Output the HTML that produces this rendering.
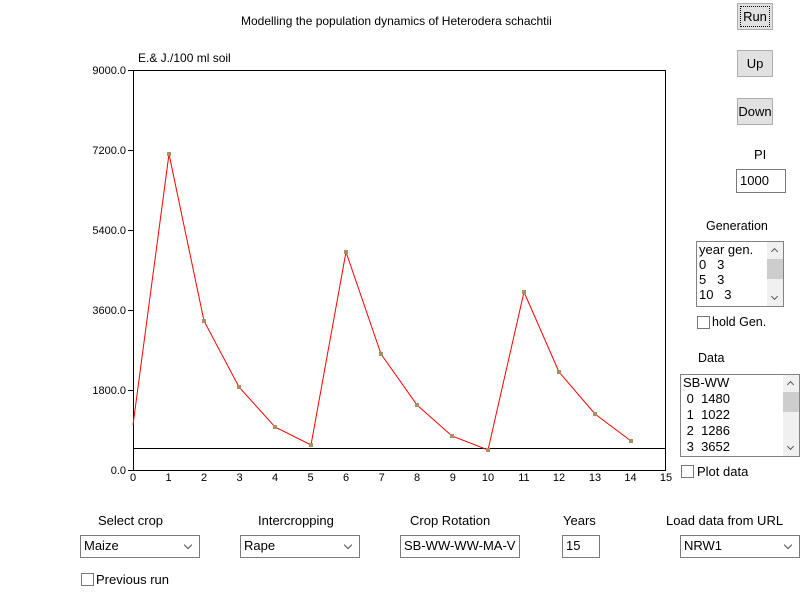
<!DOCTYPE html><html><head><style>
body{margin:0;width:800px;height:601px;background:#fff;font-family:"Liberation Sans",sans-serif;font-size:13px;position:relative;overflow:hidden}
.a{position:absolute;white-space:nowrap}
.btn{position:absolute;width:36px;height:27px;background:#e1e1e1;border:1px solid #adadad;box-sizing:border-box;text-align:center;line-height:25px;font-size:13px}
.box{position:absolute;border:1px solid #7a7a7a;box-sizing:border-box;background:#fff;font-size:13px;line-height:20px;padding-left:3px}
.sel::after{content:"";position:absolute;right:8px;top:6px;width:5px;height:5px;border-right:1px solid #555;border-bottom:1px solid #555;transform:rotate(45deg)}
.cb{position:absolute;width:11px;height:11px;border:1px solid #777;background:#fff}
.lb{position:absolute;border:1px solid #828282;background:#fff;box-sizing:border-box;line-height:15px;font-size:13px;padding-left:2px}
.sb{position:absolute;right:0;top:0;bottom:0;width:16px;background:#f0f0f0}
.sb i{position:absolute;left:0;top:17px;width:16px;height:20px;background:#cdcdcd}
.sb b,.sb u{position:absolute;left:5px;width:4px;height:4px;border-left:1px solid #555;border-top:1px solid #555}
.sb b{top:7px;transform:rotate(45deg)}
.sb u{bottom:7px;transform:rotate(225deg)}
</style></head><body>
<div class="a" style="left:241px;top:14px;font-size:12px">Modelling the population dynamics of Heterodera schachtii</div>
<div class="a" style="left:138px;top:51px;font-size:12px">E.&amp; J./100 ml soil</div>
<svg class="a" style="left:0;top:0" width="800" height="601">
<g font-family="Liberation Sans" font-size="11" fill="#000">
<rect x="133.5" y="70.5" width="532" height="400" fill="none" stroke="#000"/>
<g stroke="#000">
<line x1="128" y1="70.5" x2="133" y2="70.5"/><line x1="128" y1="150.5" x2="133" y2="150.5"/><line x1="128" y1="230.5" x2="133" y2="230.5"/><line x1="128" y1="310.5" x2="133" y2="310.5"/><line x1="128" y1="390.5" x2="133" y2="390.5"/><line x1="128" y1="470.5" x2="133" y2="470.5"/>
<line x1="133" y1="448.5" x2="666" y2="448.5"/>
</g>
<g text-anchor="end"><text x="126" y="74">9000.0</text><text x="126" y="154">7200.0</text><text x="126" y="234">5400.0</text><text x="126" y="314">3600.0</text><text x="126" y="394">1800.0</text><text x="126" y="474">0.0</text></g>
<g text-anchor="middle">
<text x="133" y="481">0</text><text x="168.5" y="481">1</text><text x="204" y="481">2</text><text x="239.6" y="481">3</text><text x="275" y="481">4</text><text x="310.6" y="481">5</text><text x="346" y="481">6</text><text x="381.7" y="481">7</text><text x="417" y="481">8</text><text x="452.8" y="481">9</text><text x="488" y="481">10</text><text x="523.9" y="481">11</text><text x="559" y="481">12</text><text x="595" y="481">13</text><text x="630.5" y="481">14</text><text x="666" y="481">15</text></g>
<polyline fill="none" stroke="#f00" stroke-width="1" points="133,425 169,154 204,321 239,387 275,427 311,445 346,252 381,354 417,405 452,436 488,450 524,292 559,372 595,414 631,441"/>
<g fill="#a89060"><rect x="167" y="152" width="4" height="4"/><rect x="202" y="319" width="4" height="4"/><rect x="237" y="385" width="4" height="4"/><rect x="273" y="425" width="4" height="4"/><rect x="309" y="443" width="4" height="4"/><rect x="344" y="250" width="4" height="4"/><rect x="379" y="352" width="4" height="4"/><rect x="415" y="403" width="4" height="4"/><rect x="450" y="434" width="4" height="4"/><rect x="486" y="448" width="4" height="4"/><rect x="522" y="290" width="4" height="4"/><rect x="557" y="370" width="4" height="4"/><rect x="593" y="412" width="4" height="4"/><rect x="629" y="439" width="4" height="4"/></g>
</g></svg>
<div class="btn" style="left:737px;top:3px;outline:1px dotted #000;outline-offset:-4px">Run</div>
<div class="btn" style="left:737px;top:50px">Up</div>
<div class="btn" style="left:737px;top:98px">Down</div>
<div class="a" style="left:754px;top:147px">PI</div>
<div class="box" style="left:736px;top:169px;width:50px;height:24px;line-height:22px">1000</div>
<div class="a" style="left:706px;top:219px;font-size:12.5px">Generation</div>
<div class="lb" style="left:696px;top:241px;width:88px;height:66px"><div>year gen.</div><div>0&nbsp;&nbsp; 3</div><div>5&nbsp;&nbsp; 3</div><div>10&nbsp;&nbsp; 3</div><div class="sb"><b></b><i></i><u></u></div></div>
<div class="cb" style="left:697px;top:316px"></div><div class="a" style="left:712px;top:315px;font-size:12.5px">hold Gen.</div>
<div class="a" style="left:698px;top:351px;font-size:12.5px">Data</div>
<div class="lb" style="left:680px;top:374px;width:120px;height:83px;line-height:16px"><div>SB-WW</div><div>&nbsp;0&nbsp; 1480</div><div>&nbsp;1&nbsp; 1022</div><div>&nbsp;2&nbsp; 1286</div><div>&nbsp;3&nbsp; 3652</div><div class="sb"><b></b><i></i><u></u></div></div>
<div class="cb" style="left:681px;top:465px"></div><div class="a" style="left:697px;top:464px;font-size:13px">Plot data</div>
<div class="a" style="left:98px;top:513px">Select crop</div>
<div class="a" style="left:258px;top:513px">Intercropping</div>
<div class="a" style="left:410px;top:513px">Crop Rotation</div>
<div class="a" style="left:563px;top:513px">Years</div>
<div class="a" style="left:666px;top:513px">Load data from URL</div>
<div class="box sel" style="left:80px;top:535px;width:120px;height:23px">Maize</div>
<div class="box sel" style="left:240px;top:535px;width:120px;height:23px">Rape</div>
<div class="box" style="left:400px;top:535px;width:120px;height:23px;overflow:hidden">SB-WW-WW-MA-V</div>
<div class="box" style="left:562px;top:535px;width:38px;height:23px">15</div>
<div class="box sel" style="left:680px;top:535px;width:120px;height:23px">NRW1</div>
<div class="cb" style="left:81px;top:573px"></div><div class="a" style="left:96px;top:572px;font-size:13px">Previous run</div>
</body></html>
